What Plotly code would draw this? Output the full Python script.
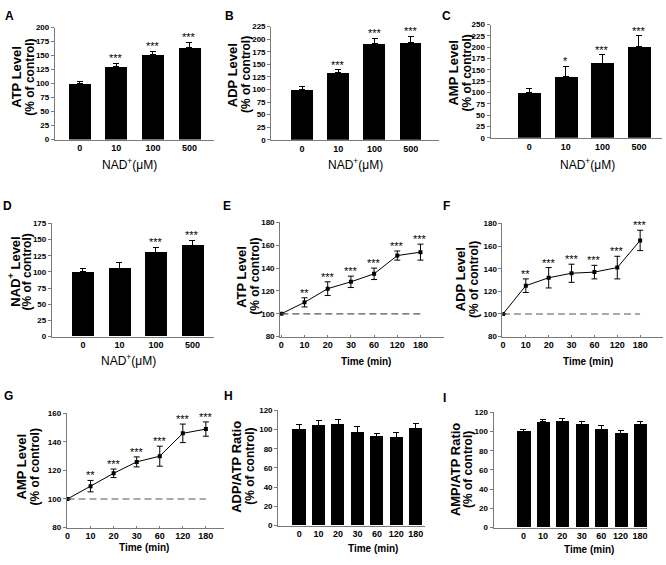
import plotly.graph_objects as go

# ---------------- data ----------------
nad_doses = ["0", "10", "100", "500"]
times = ["0", "10", "20", "30", "60", "120", "180"]

atp_dose = [100, 130, 152, 164]
atp_dose_err = [4, 6, 6, 10]
atp_dose_sig = ["", "***", "***", "***"]

adp_dose = [100, 133, 192, 194]
adp_dose_err = [5, 6, 10, 12]
adp_dose_sig = ["", "***", "***", "***"]

amp_dose = [100, 136, 165, 202]
amp_dose_err = [8, 22, 19, 23]
amp_dose_sig = ["", "*", "***", "***"]

nad_dose = [100, 106, 130, 141]
nad_dose_err = [5, 9, 8, 8]
nad_dose_sig = ["", "", "***", "***"]

atp_time = [100, 110, 122, 128, 135, 151, 154]
atp_time_err = [0, 4, 6, 5, 5, 4, 7]
atp_time_sig = ["", "**", "***", "***", "***", "***", "***"]

adp_time = [100, 125, 132, 136, 137, 141, 165]
adp_time_err = [0, 6, 9, 8, 6, 10, 9]
adp_time_sig = ["", "**", "***", "***", "***", "***", "***"]

amp_time = [100, 109, 118, 126, 130, 146, 149]
amp_time_err = [0, 4, 3, 3.5, 7, 6.5, 5]
amp_time_sig = ["", "**", "***", "***", "***", "***", "***"]

adp_atp_ratio = [100, 104, 105, 97, 93, 92, 101]
adp_atp_ratio_err = [5, 5, 6, 6, 3, 5, 5]

amp_atp_ratio = [100, 110, 111, 107, 102, 98, 107]
amp_atp_ratio_err = [2, 3, 3, 3, 4, 3, 3]

baseline = 100

# ---------------- layout helpers ----------------
W, H = 666, 565
AX = "#7a7a7a"
FONT = "Liberation Sans, Arial, sans-serif"

fig = go.Figure()
annotations = []


def px_x(v):
    return v / W


def px_y(v):
    return 1 - v / H


panels = [
    dict(kind="bar", cats=nad_doses, vals=atp_dose, errs=atp_dose_err, sig=atp_dose_sig,
         xpx=(53, 213), ypx=(24, 137.7), yr=(0, 200), dt=25, xr=(-0.68, 3.68), bw=0.6,
         yt="ATP Level", xt="NAD<sup>+</sup>(μM)", letter="A", lp=(8, 12), ytp=(15, 28, 74), xtp=(128, 163)),
    dict(kind="bar", cats=nad_doses, vals=adp_dose, errs=adp_dose_err, sig=adp_dose_sig,
         xpx=(270, 438), ypx=(23, 138), yr=(0, 225), dt=25, xr=(-0.85, 3.77), bw=0.6,
         yt="ADP Level", xt="NAD<sup>+</sup>(μM)", letter="B", lp=(228, 12), ytp=(232, 245, 72), xtp=(355, 163)),
    dict(kind="bar", cats=nad_doses, vals=amp_dose, errs=amp_dose_err, sig=amp_dose_sig,
         xpx=(490, 662), ypx=(21, 136), yr=(0, 250), dt=25, xr=(-1.06, 3.63), bw=0.63,
         yt="AMP Level", xt="NAD<sup>+</sup>(μM)", letter="C", lp=(446, 12), ytp=(453, 466, 70), xtp=(587, 163)),
    dict(kind="bar", cats=nad_doses, vals=nad_dose, errs=nad_dose_err, sig=nad_dose_sig,
         xpx=(50, 213), ypx=(223, 338), yr=(0, 175), dt=25, xr=(-0.85, 3.6), bw=0.6,
         yt="NAD<sup>+</sup> Level", xt="NAD<sup>+</sup>(μM)", letter="D", lp=(6, 205), ytp=(12, 25, 272), xtp=(127, 362)),
    dict(kind="line", cats=times, vals=atp_time, errs=atp_time_err, sig=atp_time_sig,
         xpx=(279, 443), ypx=(222, 338), yr=(80, 180), dt=20, xr=(-0.05, 7.0), bw=None,
         yt="ATP Level", xt="Time (min)", letter="E", lp=(226, 205), ytp=(240, 253, 277), xtp=(365, 363)),
    dict(kind="line", cats=times, vals=adp_time, errs=adp_time_err, sig=adp_time_sig,
         xpx=(502, 663), ypx=(223, 338), yr=(80, 180), dt=20, xr=(-0.02, 7.0), bw=None,
         yt="ADP Level", xt="Time (min)", letter="F", lp=(446, 205), ytp=(460, 473, 280), xtp=(588, 363)),
    dict(kind="line", cats=times, vals=amp_time, errs=amp_time_err, sig=amp_time_sig,
         xpx=(65, 223), ypx=(416, 532), yr=(80, 160), dt=20, xr=(-0.03, 6.8), bw=None,
         yt="AMP Level", xt="Time (min)", letter="G", lp=(7, 398), ytp=(20, 33, 470), xtp=(142, 552)),
    dict(kind="bar", cats=times, vals=adp_atp_ratio, errs=adp_atp_ratio_err, sig=None,
         xpx=(277, 424), ypx=(413, 530), yr=(0, 120), dt=20, xr=(-1.08, 6.46), bw=0.68,
         yt="ADP/ATP Ratio", xt="Time (min)", letter="H", lp=(227, 398), ytp=(235, 248, 470), xtp=(372, 553)),
    dict(kind="bar", cats=times, vals=amp_atp_ratio, errs=amp_atp_ratio_err, sig=None,
         xpx=(493, 647), ypx=(415, 532), yr=(0, 120), dt=20, xr=(-1.54, 6.36), bw=0.68,
         yt="AMP/ATP Ratio", xt="Time (min)", letter="I", lp=(444, 400), ytp=(455, 468, 473), xtp=(589, 554)),
]

layout_axes = {}
for i, p in enumerate(panels, start=1):
    xa = "x" if i == 1 else f"x{i}"
    ya = "y" if i == 1 else f"y{i}"
    xkey = "xaxis" if i == 1 else f"xaxis{i}"
    ykey = "yaxis" if i == 1 else f"yaxis{i}"

    if p["kind"] == "bar":
        fig.add_trace(go.Bar(
            x=p["cats"], y=p["vals"], width=p["bw"], xaxis=xa, yaxis=ya,
            marker=dict(color="black", line=dict(color="black", width=0)),
            error_y=dict(type="data", array=p["errs"], symmetric=False,
                         arrayminus=[0] * len(p["errs"]), color="black",
                         thickness=1, width=3),
            showlegend=False, hoverinfo="skip",
        ))
    else:
        fig.add_trace(go.Scatter(
            x=p["cats"], y=p["vals"], mode="lines+markers", xaxis=xa, yaxis=ya,
            line=dict(color="black", width=1),
            marker=dict(color="black", size=4, symbol="square"),
            error_y=dict(type="data", array=p["errs"], symmetric=True,
                         color="black", thickness=1, width=3),
            showlegend=False, hoverinfo="skip",
        ))
        fig.add_trace(go.Scatter(
            x=[p["cats"][0], p["cats"][-1]], y=[baseline, baseline],
            mode="lines", line=dict(color="#555555", width=1.2, dash="7px,4px"),
            xaxis=xa, yaxis=ya, showlegend=False, hoverinfo="skip",
        ))

    if p["sig"]:
        for k, (v, e, s) in enumerate(zip(p["vals"], p["errs"], p["sig"])):
            if s:
                annotations.append(dict(
                    x=k, y=v + e, xref=xa, yref=ya, text=s, showarrow=False,
                    yanchor="bottom", yshift=-3,
                    font=dict(family=FONT, size=11, color="black"),
                ))

    layout_axes[xkey] = dict(
        domain=[px_x(p["xpx"][0]), px_x(p["xpx"][1])], anchor=ya, type="category",
        categoryorder="array", categoryarray=p["cats"],
        range=list(p["xr"]), showline=True, linecolor=AX, linewidth=1,
        showgrid=False, zeroline=False,
        ticks=("inside" if p["kind"] == "line" else ""), ticklen=2, tickcolor=AX,
        tickfont=dict(family=FONT, size=9, color="black", weight="bold"),
        fixedrange=True,
    )
    layout_axes[ykey] = dict(
        domain=[px_y(p["ypx"][1]), px_y(p["ypx"][0])], anchor=xa,
        range=list(p["yr"]), dtick=p["dt"], tick0=p["yr"][0],
        showline=True, linecolor=AX, linewidth=1, showgrid=False, zeroline=False,
        ticks="outside", ticklen=3, tickcolor=AX,
        tickfont=dict(family=FONT, size=8, color="black", weight="bold"),
        fixedrange=True,
    )

    annotations.append(dict(
        x=px_x(p["ytp"][0]), y=px_y(p["ytp"][2]), xref="paper", yref="paper",
        text="<b>" + p["yt"] + "</b>", textangle=-90, showarrow=False,
        xanchor="center", yanchor="middle",
        font=dict(family=FONT, size=13, color="black"),
    ))
    annotations.append(dict(
        x=px_x(p["ytp"][1]), y=px_y(p["ytp"][2]), xref="paper", yref="paper",
        text="<b>(% of control)</b>", textangle=-90, showarrow=False,
        xanchor="center", yanchor="middle",
        font=dict(family=FONT, size=12, color="black"),
    ))
    if p["xt"].startswith("NAD"):
        xt_text = p["xt"]
        xt_size = 12
    else:
        xt_text = "<b>" + p["xt"] + "</b>"
        xt_size = 10
    annotations.append(dict(
        x=px_x(p["xtp"][0]), y=px_y(p["xtp"][1]), xref="paper", yref="paper",
        text=xt_text, showarrow=False, xanchor="center", yanchor="middle",
        font=dict(family=FONT, size=xt_size, color="black"),
    ))
    annotations.append(dict(
        x=px_x(p["lp"][0]), y=px_y(p["lp"][1]), xref="paper", yref="paper",
        text="<b>" + p["letter"] + "</b>", showarrow=False, xanchor="center", yanchor="middle",
        font=dict(family=FONT, size=12, color="black"),
    ))

fig.update_layout(
    width=W, height=H, autosize=False,
    margin=dict(l=0, r=0, t=0, b=0),
    paper_bgcolor="white", plot_bgcolor="white",
    annotations=annotations, showlegend=False, bargap=0,
    **layout_axes,
)

fig.write_html("out.html", config={"displayModeBar": False},
               post_script="document.body.style.margin='0';document.body.style.overflow='hidden';")
